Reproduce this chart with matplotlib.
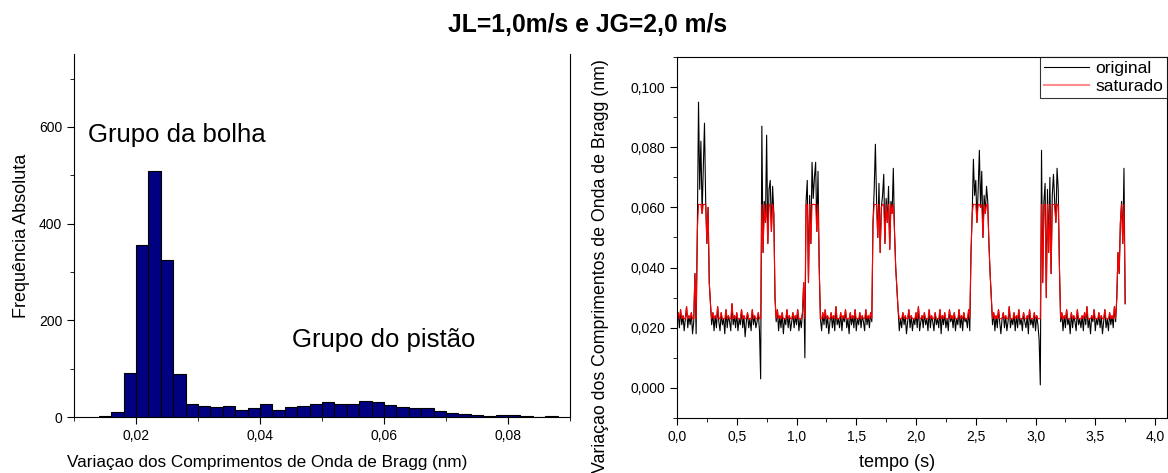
import numpy as np
import matplotlib
matplotlib.use("Agg")
import matplotlib.pyplot as plt
from matplotlib.ticker import MultipleLocator, FuncFormatter

plt.rcParams['font.family'] = ['Liberation Sans', 'DejaVu Sans']

# histogram: bin starts (nm) and counts
bin_starts = [0.014, 0.016, 0.018, 0.020, 0.022, 0.024, 0.026, 0.028, 0.030, 0.032,
              0.034, 0.036, 0.038, 0.040, 0.042, 0.044, 0.046, 0.048, 0.050, 0.052,
              0.054, 0.056, 0.058, 0.060, 0.062, 0.064, 0.066, 0.068, 0.070, 0.072,
              0.074, 0.076, 0.078, 0.080, 0.082, 0.084, 0.086]
counts = [2, 10, 92, 355, 508, 324, 88, 27, 22, 20,
          23, 14, 18, 27, 14, 21, 23, 27, 31, 27,
          26, 34, 31, 25, 20, 18, 18, 13, 8, 7,
          4, 2, 4, 4, 2, 0, 2]
bin_width = 0.002

# time signal, one sample every 0.01 s, values in 0.001 nm
dt = 0.01
original = [
    # 0.00 - 0.14
    22, 25, 20, 26, 21, 24, 19, 23, 27, 20, 24, 21, 25, 18, 22,
    # pulse 1
    38, 18, 52, 95, 66, 82, 58, 73, 88, 62, 48, 60, 35, 28,
    # 0.29 - 0.69
    21, 25, 19, 24, 20, 27, 22, 19, 25, 21, 23, 18, 26, 20, 24, 22, 19, 28, 21, 24,
    20, 25, 19, 23, 21, 26, 20, 24, 17, 22, 25, 20, 23, 19, 26, 21, 24, 20, 22, 25, 19,
    # pulse 2
    3, 87, 45, 62, 55, 84, 48, 66, 69, 52, 67, 58, 30,
    # 0.83 - 1.05
    22, 26, 19, 24, 20, 25, 18, 23, 21, 26, 20, 24, 19, 22, 25, 20, 24, 21, 26, 19, 23, 20, 25,
    # pulse 3
    35, 10, 62, 69, 35, 64, 48, 75, 63, 70, 75, 52, 72, 40,
    # 1.20 - 1.63
    23, 19, 25, 21, 26, 20, 24, 18, 22, 25, 20, 24, 19, 27, 21, 23, 20, 25, 19, 24,
    22, 26, 20, 23, 18, 25, 21, 24, 20, 26, 19, 23, 21, 25, 20, 24, 22, 19, 26, 21,
    24, 20, 25, 22,
    # pulse 4
    55, 66, 81, 62, 50, 68, 45, 60, 64, 71, 48, 63, 55, 67, 46, 62, 58, 73, 52, 40, 33,
    # 1.85 - 2.45
    26, 19, 23, 20, 25, 21, 24, 18, 22, 26, 20, 24, 19, 23, 21, 25, 20, 27, 19, 22,
    24, 20, 25, 21, 23, 19, 26, 20, 24, 22, 19, 25, 21, 23, 20, 26, 18, 24, 21, 25,
    20, 23, 19, 26, 22, 24, 20, 25, 19, 23, 21, 26, 20, 24, 19, 25, 22, 23, 20, 26, 19,
    # pulse 5
    45, 58, 76, 64, 69, 55, 66, 79, 60, 72, 50, 64, 58, 67, 62, 48, 38, 30,
    # 2.64 - 3.03
    21, 25, 19, 24, 20, 26, 22, 18, 23, 25, 20, 24, 19, 22, 27, 20, 23, 21, 25, 19,
    24, 20, 26, 21, 23, 19, 25, 22, 20, 24, 18, 26, 21, 23, 20, 25, 19, 24, 21, 16,
    # pulse 6
    1, 79, 35, 62, 68, 30, 66, 45, 70, 38, 64, 71, 62, 55, 73, 66, 40,
    # 3.21 - 3.67
    22, 25, 19, 24, 20, 26, 21, 23, 18, 25, 20, 24, 22, 19, 26, 21, 23, 20, 24, 19,
    25, 21, 27, 20, 23, 18, 24, 22, 26, 19, 23, 21, 25, 20, 24, 18, 22, 26, 20, 23,
    19, 25, 21, 24, 20, 27, 22,
    # pulse 7
    30, 45, 38, 55, 62, 48, 73, 28,
]
saturado = [
    23, 25, 23, 26, 23, 24, 23, 23, 27, 23, 24, 23, 25, 23, 23,
    38, 23, 52, 61, 61, 61, 58, 61, 61, 61, 48, 60, 35, 28,
    23, 25, 23, 24, 23, 27, 23, 23, 25, 23, 23, 23, 26, 23, 24, 23, 23, 28, 23, 24,
    23, 25, 23, 23, 23, 26, 23, 24, 23, 23, 25, 23, 23, 23, 26, 23, 24, 23, 23, 25, 23,
    23, 61, 45, 61, 55, 61, 48, 61, 61, 52, 61, 58, 30,
    23, 26, 23, 24, 23, 25, 23, 23, 23, 26, 23, 24, 23, 23, 25, 23, 24, 23, 26, 23, 23, 23, 25,
    35, 23, 61, 61, 35, 61, 48, 61, 61, 61, 61, 52, 61, 40,
    23, 23, 25, 23, 26, 23, 24, 23, 23, 25, 23, 24, 23, 27, 23, 23, 23, 25, 23, 24,
    23, 26, 23, 23, 23, 25, 23, 24, 23, 26, 23, 23, 23, 25, 23, 24, 23, 23, 26, 23,
    24, 23, 25, 23,
    55, 61, 61, 61, 50, 61, 45, 60, 61, 61, 48, 61, 55, 61, 46, 61, 58, 61, 52, 40, 33,
    26, 23, 23, 23, 25, 23, 24, 23, 23, 26, 23, 24, 23, 23, 23, 25, 23, 27, 23, 23,
    24, 23, 25, 23, 23, 23, 26, 23, 24, 23, 23, 25, 23, 23, 23, 26, 23, 24, 23, 25,
    23, 23, 23, 26, 23, 24, 23, 25, 23, 23, 23, 26, 23, 24, 23, 25, 23, 23, 23, 26, 23,
    45, 58, 61, 61, 61, 55, 61, 61, 60, 61, 50, 61, 58, 61, 61, 48, 38, 30,
    23, 25, 23, 24, 23, 26, 23, 23, 23, 25, 23, 24, 23, 23, 27, 23, 23, 23, 25, 23,
    24, 23, 26, 23, 23, 23, 25, 23, 23, 24, 23, 26, 23, 23, 23, 25, 23, 24, 23, 23,
    23, 61, 35, 61, 61, 30, 61, 45, 61, 38, 61, 61, 61, 55, 61, 61, 40,
    23, 25, 23, 24, 23, 26, 23, 23, 23, 25, 23, 24, 23, 23, 26, 23, 23, 23, 24, 23,
    25, 23, 27, 23, 23, 23, 24, 23, 26, 23, 23, 23, 25, 23, 24, 23, 23, 26, 23, 23,
    23, 25, 23, 24, 23, 27, 23,
    30, 45, 38, 55, 61, 48, 61, 28,
]

t = np.arange(len(original)) * dt
orig_nm = np.array(original) / 1000.0
sat_nm = np.array(saturado) / 1000.0


def comma_fmt(decimals):
    return FuncFormatter(lambda v, pos: f"{v:.{decimals}f}".replace('.', ','))


fig = plt.figure(figsize=(11.68, 4.73), dpi=100)
fig.text(0.503, 1 - 25 / 473, "JL=1,0m/s e JG=2,0 m/s", ha='center', va='center',
         fontsize=17.8, fontweight='bold')

# left: histogram
ax1 = fig.add_axes([74 / 1168, 1 - 417 / 473, 496 / 1168, 362.5 / 473])
ax1.bar(bin_starts, counts, width=bin_width, align='edge', color='#000080',
        edgecolor='black', linewidth=0.8)
ax1.set_xlim(0.01, 0.09)
ax1.set_ylim(0, 750)
ax1.spines['top'].set_visible(False)
ax1.xaxis.set_major_locator(MultipleLocator(0.02))
ax1.xaxis.set_minor_locator(MultipleLocator(0.01))
ax1.yaxis.set_major_locator(MultipleLocator(200))
ax1.yaxis.set_minor_locator(MultipleLocator(100))
ax1.xaxis.set_major_formatter(comma_fmt(2))
ax1.tick_params(which='major', direction='out', length=5, labelsize=10)
ax1.tick_params(which='minor', direction='out', length=3)
ax1.set_xlabel("Variaçao dos Comprimentos de Onda de Bragg (nm)", fontsize=12.3)
ax1.xaxis.set_label_coords(0.389, -0.105)
ax1.set_ylabel("Frequência Absoluta", fontsize=13, labelpad=6)
ax1.text(0.0122, 583, "Grupo da bolha", fontsize=18.5, va='center')
ax1.text(0.0452, 159, "Grupo do pistão", fontsize=18.5, va='center')

# right: time signal
ax2 = fig.add_axes([677 / 1168, 1 - 418 / 473, 490 / 1168, 361 / 473])
ax2.plot(t, orig_nm, color='black', linewidth=0.8, label='original')
ax2.plot(t, sat_nm, color='red', linewidth=0.8, label='saturado')
ax2.set_xlim(0, 4.1)
ax2.set_ylim(-0.01, 0.11)
ax2.xaxis.set_major_locator(MultipleLocator(0.5))
ax2.xaxis.set_minor_locator(MultipleLocator(0.25))
ax2.yaxis.set_major_locator(MultipleLocator(0.02))
ax2.yaxis.set_minor_locator(MultipleLocator(0.01))
ax2.xaxis.set_major_formatter(comma_fmt(1))
ax2.yaxis.set_major_formatter(comma_fmt(3))
ax2.tick_params(which='major', direction='out', length=5, labelsize=10)
ax2.tick_params(which='minor', direction='out', length=3)
ax2.set_xlabel("tempo (s)", fontsize=13)
ax2.xaxis.set_label_coords(0.449, -0.1)
ax2.set_ylabel("Variaçao dos Comprimentos de Onda de Bragg (nm)", fontsize=12.8)
ax2.yaxis.set_label_coords(-0.139, 0.42)
leg = ax2.legend(loc='upper right', bbox_to_anchor=(1, 1), borderaxespad=0,
                 fancybox=False, edgecolor='black', fontsize=12.5, handlelength=2.6,
                 borderpad=0.2, labelspacing=0.2, handletextpad=0.4)
leg.get_frame().set_linewidth(0.8)
leg.get_lines()[1].set_alpha(0.45)
leg.get_lines()[1].set_linewidth(1.5)

fig.savefig("out.png", dpi=100)
